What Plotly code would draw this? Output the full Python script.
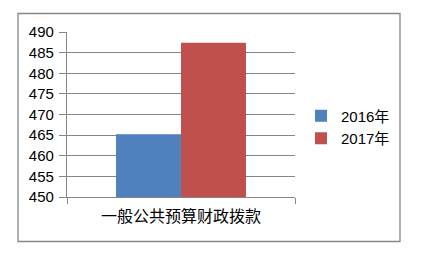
import plotly.graph_objects as go

categories = ["一般公共预算财政拨款"]
series_names = ["2016年", "2017年"]
values_2016 = [465.2]
values_2017 = [487.4]
colors = ["#4F81BD", "#C0504D"]
y_ticks = [450, 455, 460, 465, 470, 475, 480, 485, 490]

W, H = 423, 257
L, R, T, B = 67, 295, 32, 197
PW, PH = R - L, B - T
fig = go.Figure()
fig.add_trace(go.Bar(x=categories, y=values_2016, name=series_names[0],
                     marker=dict(color=colors[0], line=dict(width=0))))
fig.add_trace(go.Bar(x=categories, y=values_2017, name=series_names[1],
                     marker=dict(color=colors[1], line=dict(width=0))))

grid = "#868686"
fig.update_layout(
    width=W, height=H,
    margin=dict(l=L, r=W - R, t=T, b=H - B, autoexpand=False),
    paper_bgcolor="white", plot_bgcolor="white",
    barmode="group", bargap=0.43, bargroupgap=0,
    font=dict(family="Liberation Sans, Arial, Noto Sans CJK SC", size=15, color="#000000"),
    showlegend=True,
    legend=dict(x=(301 - L) / PW, y=(B - 127) / PH, xref="paper", yref="paper",
                xanchor="left", yanchor="middle",
                font=dict(size=15), bgcolor="rgba(0,0,0,0)",
                itemclick=False, tracegroupgap=0),
    shapes=[dict(type="rect", xref="paper", yref="paper",
                 x0=(18 - L) / PW, x1=(400 - L) / PW,
                 y0=(B - 241.5) / PH, y1=(B - 13.5) / PH,
                 line=dict(color=grid, width=1.3), layer="below")],
)
fig.update_yaxes(range=[450, 490], tickvals=y_ticks, showgrid=True, gridcolor=grid,
                 gridwidth=1.3, showline=True, linecolor=grid, linewidth=1.3,
                 ticks="outside", ticklen=7, tickcolor=grid, tickwidth=1.3,
                 zeroline=False, ticklabelstandoff=2, automargin=False)
fig.update_xaxes(showline=True, linecolor=grid, linewidth=1.3, ticks="outside",
                 tickson="boundaries", ticklen=6, tickcolor=grid, tickwidth=1.3,
                 tickfont=dict(size=16, family="Noto Sans CJK SC"), showgrid=False,
                 ticklabelstandoff=5, automargin=False)

fig.write_html("out.html")
